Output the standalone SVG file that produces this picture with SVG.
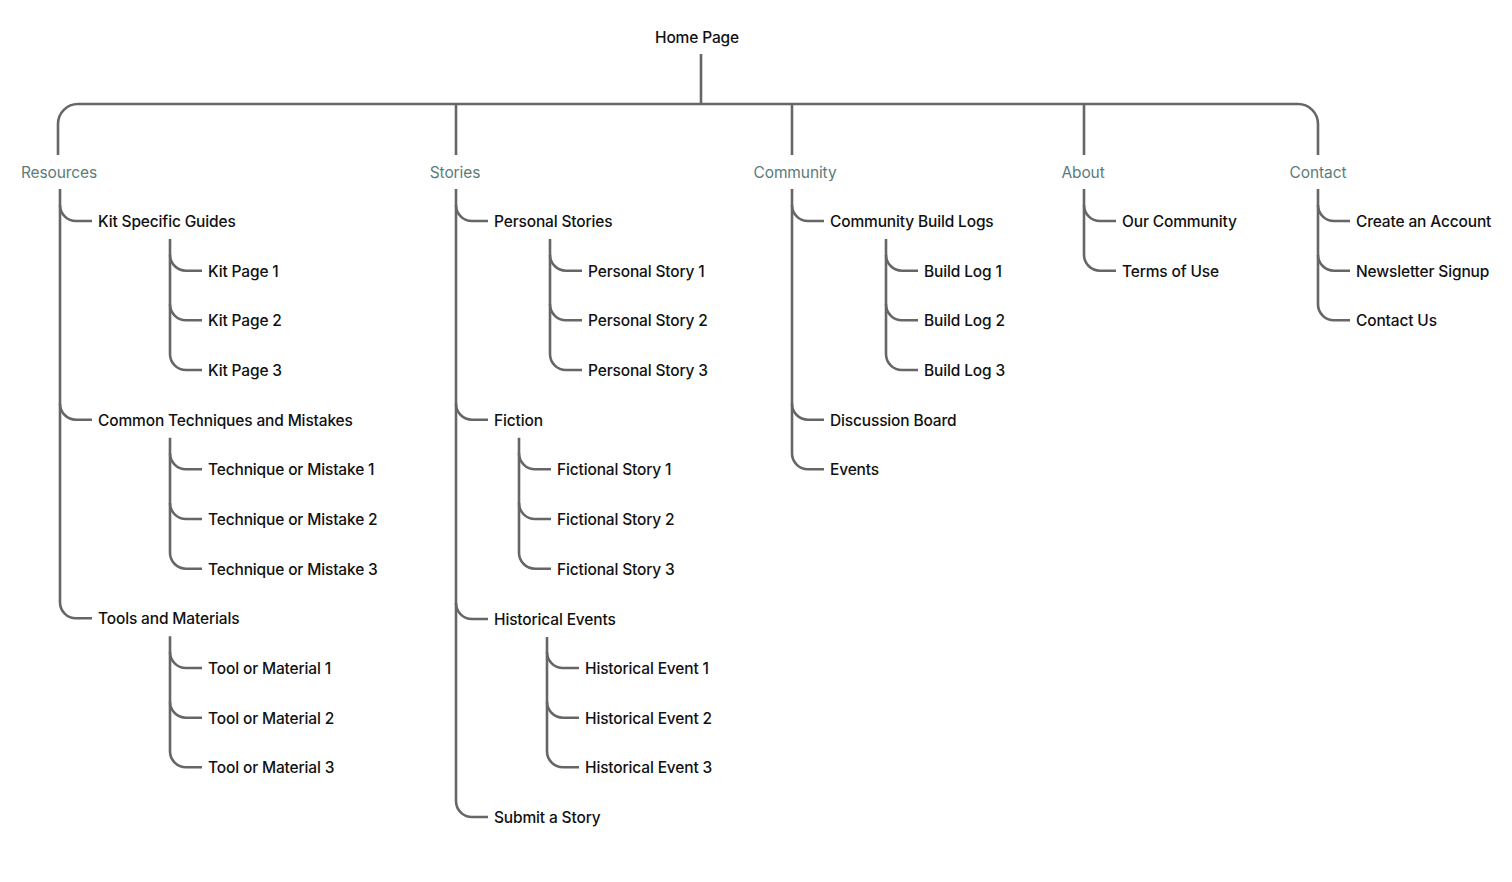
<svg xmlns="http://www.w3.org/2000/svg" width="1512" height="882" viewBox="0 0 1512 882">
<style>
.n{font-family:Inter,"Liberation Sans",sans-serif;font-size:15.5px;font-weight:500;letter-spacing:-0.15px;fill:#111}
.c{font-family:Inter,"Liberation Sans",sans-serif;font-size:15.5px;letter-spacing:-0.1px;fill:#5b7c79;text-anchor:middle}
.l{fill:none;stroke:#666;stroke-width:2.6;stroke-linecap:butt}
</style>
<rect width="1512" height="882" fill="#fff"/>
<g id="connectors" class="l">
<path d="M701,54 V104"/>
<path d="M58,155 V124 A20,20 0 0 1 78,104 H1298 A20,20 0 0 1 1318,124 V155"/>
<path d="M456,104 V155"/><path d="M792,104 V155"/><path d="M1084,104 V155"/>
<!-- Resources -->
<path d="M60,189 V602.3 A16,16 0 0 0 76,618.3 H92"/>
<path d="M60,205 A16,16 0 0 0 76,221 H92"/>
<path d="M60,403.7 A16,16 0 0 0 76,419.7 H92"/>
<path d="M170,239 V354 A16,16 0 0 0 186,370 H202"/>
<path d="M170,254.7 A16,16 0 0 0 186,270.7 H202"/>
<path d="M170,304.3 A16,16 0 0 0 186,320.3 H202"/>
<path d="M170,437.7 V552.7 A16,16 0 0 0 186,568.7 H202"/>
<path d="M170,453.3 A16,16 0 0 0 186,469.3 H202"/>
<path d="M170,503 A16,16 0 0 0 186,519 H202"/>
<path d="M170,636.3 V751.3 A16,16 0 0 0 186,767.3 H202"/>
<path d="M170,652 A16,16 0 0 0 186,668 H202"/>
<path d="M170,701.7 A16,16 0 0 0 186,717.7 H202"/>
<!-- Stories -->
<path d="M456,189 V801 A16,16 0 0 0 472,817 H488"/>
<path d="M456,205 A16,16 0 0 0 472,221 H488"/>
<path d="M456,403.7 A16,16 0 0 0 472,419.7 H488"/>
<path d="M456,603 A16,16 0 0 0 472,619 H488"/>
<path d="M550,239 V354 A16,16 0 0 0 566,370 H582"/>
<path d="M550,254.7 A16,16 0 0 0 566,270.7 H582"/>
<path d="M550,304.3 A16,16 0 0 0 566,320.3 H582"/>
<path d="M519,437.7 V552.7 A16,16 0 0 0 535,568.7 H551"/>
<path d="M519,453.3 A16,16 0 0 0 535,469.3 H551"/>
<path d="M519,503 A16,16 0 0 0 535,519 H551"/>
<path d="M547,637 V751.3 A16,16 0 0 0 563,767.3 H579"/>
<path d="M547,652 A16,16 0 0 0 563,668 H579"/>
<path d="M547,701.7 A16,16 0 0 0 563,717.7 H579"/>
<!-- Community -->
<path d="M792,189 V453.3 A16,16 0 0 0 808,469.3 H824"/>
<path d="M792,205 A16,16 0 0 0 808,221 H824"/>
<path d="M792,403.7 A16,16 0 0 0 808,419.7 H824"/>
<path d="M886,239 V354 A16,16 0 0 0 902,370 H918"/>
<path d="M886,254.7 A16,16 0 0 0 902,270.7 H918"/>
<path d="M886,304.3 A16,16 0 0 0 902,320.3 H918"/>
<!-- About -->
<path d="M1084,189 V254.7 A16,16 0 0 0 1100,270.7 H1116"/>
<path d="M1084,205 A16,16 0 0 0 1100,221 H1116"/>
<!-- Contact -->
<path d="M1318,189 V304.3 A16,16 0 0 0 1334,320.3 H1350"/>
<path d="M1318,205 A16,16 0 0 0 1334,221 H1350"/>
<path d="M1318,254.7 A16,16 0 0 0 1334,270.7 H1350"/>
</g>
<g id="home"><text class="n" x="697" y="43" text-anchor="middle">Home Page</text></g>
<g id="resources"><text class="c" x="59" y="178">Resources</text></g>
<g id="stories"><text class="c" x="455" y="178">Stories</text></g>
<g id="community"><text class="c" x="795" y="178">Community</text></g>
<g id="about"><text class="c" x="1083" y="178">About</text></g>
<g id="contact"><text class="c" x="1318" y="178">Contact</text></g>
<g id="kit-guides"><text class="n" x="98" y="227">Kit Specific Guides</text></g>
<g id="kit1"><text class="n" x="208" y="276.7">Kit Page 1</text></g>
<g id="kit2"><text class="n" x="208" y="326.3">Kit Page 2</text></g>
<g id="kit3"><text class="n" x="208" y="376">Kit Page 3</text></g>
<g id="techniques"><text class="n" x="98" y="425.7">Common Techniques and Mistakes</text></g>
<g id="tech1"><text class="n" x="208" y="475.3">Technique or Mistake 1</text></g>
<g id="tech2"><text class="n" x="208" y="525">Technique or Mistake 2</text></g>
<g id="tech3"><text class="n" x="208" y="574.7">Technique or Mistake 3</text></g>
<g id="tools"><text class="n" x="98" y="624.3">Tools and Materials</text></g>
<g id="tool1"><text class="n" x="208" y="674">Tool or Material 1</text></g>
<g id="tool2"><text class="n" x="208" y="723.7">Tool or Material 2</text></g>
<g id="tool3"><text class="n" x="208" y="773.3">Tool or Material 3</text></g>
<g id="personal"><text class="n" x="494" y="227">Personal Stories</text></g>
<g id="ps1"><text class="n" x="588" y="276.7">Personal Story 1</text></g>
<g id="ps2"><text class="n" x="588" y="326.3">Personal Story 2</text></g>
<g id="ps3"><text class="n" x="588" y="376">Personal Story 3</text></g>
<g id="fiction"><text class="n" x="494" y="425.7">Fiction</text></g>
<g id="fs1"><text class="n" x="557" y="475.3">Fictional Story 1</text></g>
<g id="fs2"><text class="n" x="557" y="525">Fictional Story 2</text></g>
<g id="fs3"><text class="n" x="557" y="574.7">Fictional Story 3</text></g>
<g id="historical"><text class="n" x="494" y="625">Historical Events</text></g>
<g id="he1"><text class="n" x="585" y="674">Historical Event 1</text></g>
<g id="he2"><text class="n" x="585" y="723.7">Historical Event 2</text></g>
<g id="he3"><text class="n" x="585" y="773.3">Historical Event 3</text></g>
<g id="submit"><text class="n" x="494" y="823">Submit a Story</text></g>
<g id="build-logs"><text class="n" x="830" y="227">Community Build Logs</text></g>
<g id="bl1"><text class="n" x="924" y="276.7">Build Log 1</text></g>
<g id="bl2"><text class="n" x="924" y="326.3">Build Log 2</text></g>
<g id="bl3"><text class="n" x="924" y="376">Build Log 3</text></g>
<g id="discussion"><text class="n" x="830" y="425.7">Discussion Board</text></g>
<g id="events"><text class="n" x="830" y="475.3">Events</text></g>
<g id="our-community"><text class="n" x="1122" y="227">Our Community</text></g>
<g id="terms"><text class="n" x="1122" y="276.7">Terms of Use</text></g>
<g id="create-account"><text class="n" x="1356" y="227">Create an Account</text></g>
<g id="newsletter"><text class="n" x="1356" y="276.7">Newsletter Signup</text></g>
<g id="contact-us"><text class="n" x="1356" y="326.3">Contact Us</text></g>
</svg>
